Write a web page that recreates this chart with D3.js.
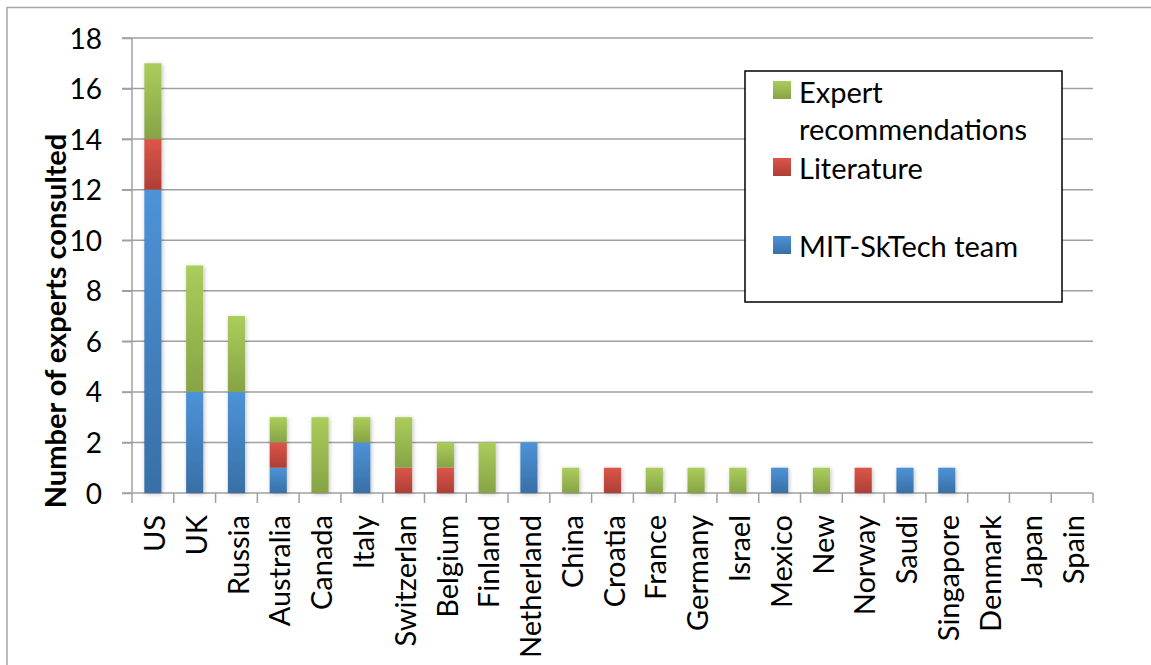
<!DOCTYPE html>
<html>
<head>
<meta charset="utf-8">
<script src="https://cdn.jsdelivr.net/npm/d3@7"></script>
<style>
  body { margin: 0; background: #fff; }
  text { font-family: Lato, "Open Sans", sans-serif; fill: #000; }
</style>
</head>
<body>
<div id="chart"></div>
<script>
var countries = ["US", "UK", "Russia", "Australia", "Canada", "Italy", "Switzerlan", "Belgium",
  "Finland", "Netherland", "China", "Croatia", "France", "Germany", "Israel", "Mexico", "New",
  "Norway", "Saudi", "Singapore", "Denmark", "Japan", "Spain"];
var team = [12, 4, 4, 1, 0, 2, 0, 0, 0, 2, 0, 0, 0, 0, 0, 1, 0, 0, 1, 1, 0, 0, 0];
var literature = [2, 0, 0, 1, 0, 0, 1, 1, 0, 0, 0, 1, 0, 0, 0, 0, 0, 1, 0, 0, 0, 0, 0];
var expert = [3, 5, 3, 1, 3, 1, 2, 1, 2, 0, 1, 0, 1, 1, 1, 0, 1, 0, 0, 0, 0, 0, 0];
var yTicks = [0, 2, 4, 6, 8, 10, 12, 14, 16, 18];

var series = [
  {key: "team", name: "MIT-SkTech team", values: team, light: "#4d93d8", dark: "#386fa6"},
  {key: "lit", name: "Literature", values: literature, light: "#dc5549", dark: "#ad3f36"},
  {key: "exp", name: "Expert recommendations", values: expert, light: "#abcd5b", dark: "#87a346"}
];

var W = 1151, H = 665;
var margin = {top: 38, right: 58, bottom: 172, left: 132};
var width = W - margin.left - margin.right,
    height = H - margin.top - margin.bottom;

var svg = d3.select("#chart").append("svg")
  .attr("width", W)
  .attr("height", H);

var defs = svg.append("defs");
series.forEach(function(s) {
  var g = defs.append("linearGradient")
    .attr("id", "grad-" + s.key)
    .attr("x1", 0).attr("y1", 0).attr("x2", 0).attr("y2", 1);
  g.append("stop").attr("offset", "0%").attr("stop-color", s.light);
  g.append("stop").attr("offset", "100%").attr("stop-color", s.dark);
});
var shadow = defs.append("filter").attr("id", "shadow")
  .attr("x", "-50%").attr("y", "-10%").attr("width", "200%").attr("height", "120%");
shadow.append("feDropShadow").attr("dx", 1).attr("dy", 1).attr("stdDeviation", 2)
  .attr("flood-color", "#000").attr("flood-opacity", 0.25);

// chart area border
svg.append("rect")
  .attr("x", 7).attr("y", 7.5)
  .attr("width", W + 10).attr("height", H + 10)
  .attr("fill", "none").attr("stroke", "#a6a6a6").attr("stroke-width", 1.5);

var g = svg.append("g")
  .attr("transform", "translate(" + margin.left + "," + margin.top + ")");

var x = d3.scaleBand().domain(countries).range([0, width]).padding(0);
var y = d3.scaleLinear().domain([0, 18]).range([height, 0]);

// gridlines
g.append("g")
  .selectAll("line")
  .data(yTicks)
  .enter().append("line")
  .attr("x1", -10).attr("x2", width)
  .attr("y1", d => y(d)).attr("y2", d => y(d))
  .attr("stroke", "#a0a0a0").attr("stroke-width", 1.5);

// y axis
var yAxis = g.append("g")
  .call(d3.axisLeft(y).tickValues(yTicks).tickSize(10).tickPadding(20));
yAxis.select(".domain").attr("stroke", "#a0a0a0").attr("stroke-width", 1.5)
  .attr("d", "M0," + y(0) + "V" + y(18));
yAxis.selectAll(".tick line").attr("stroke", "#a0a0a0").attr("stroke-width", 1.5);
yAxis.selectAll(".tick text").style("font-size", "28px").attr("dy", "0.36em");

// x axis ticks at band boundaries
var bounds = countries.map(function(c) { return x(c); }).concat([width]);
g.append("g")
  .selectAll("line")
  .data(bounds)
  .enter().append("line")
  .attr("x1", d => d).attr("x2", d => d)
  .attr("y1", height).attr("y2", height + 10)
  .attr("stroke", "#a0a0a0").attr("stroke-width", 1.5);

g.append("g")
  .selectAll("text")
  .data(countries)
  .enter().append("text")
  .attr("transform", d => "translate(" + (x(d) + x.bandwidth() / 2 + 2) + "," + (height + 22) + ") rotate(-90)")
  .attr("text-anchor", "end")
  .attr("dy", "0.35em")
  .style("font-size", "29px")
  .text(d => d);

// stacked bars
var rows = countries.map(function(c, i) {
  return {country: c, team: team[i], lit: literature[i], exp: expert[i]};
});
var stack = d3.stack().keys(["team", "lit", "exp"])(rows);
var barW = x.bandwidth() * 0.41;

var barsG = g.append("g").attr("filter", "url(#shadow)");
stack.forEach(function(layer, li) {
  barsG.append("g")
    .selectAll("rect")
    .data(layer.filter(d => d[1] > d[0]))
    .enter().append("rect")
    .attr("x", d => x(d.data.country) + (x.bandwidth() - barW) / 2)
    .attr("width", barW)
    .attr("y", d => y(d[1]))
    .attr("height", d => y(d[0]) - y(d[1]))
    .attr("fill", "url(#grad-" + series[li].key + ")");
});

// y title
svg.append("text")
  .attr("transform", "translate(56," + 321 + ") rotate(-90)")
  .attr("text-anchor", "middle")
  .attr("dy", "0.35em")
  .style("font-size", "29px")
  .style("font-weight", "bold")
  .text("Number of experts consulted");

// legend
var legend = svg.append("g");
legend.append("rect")
  .attr("x", 745).attr("y", 71)
  .attr("width", 317).attr("height", 231)
  .attr("fill", "#fff").attr("stroke", "#000").attr("stroke-width", 1.5);

var legendItems = [
  {s: series[2], lines: ["Expert", "recommendations"], sy: 81, ty: 103},
  {s: series[1], lines: ["Literature"], sy: 158, ty: 179},
  {s: series[0], lines: ["MIT-SkTech team"], sy: 236, ty: 257}
];
var li = legend.selectAll(".legend")
  .data(legendItems)
  .enter().append("g")
  .attr("class", "legend");
li.append("rect")
  .attr("x", 773).attr("y", d => d.sy)
  .attr("width", 18).attr("height", 18)
  .attr("fill", d => "url(#grad-" + d.s.key + ")");
li.append("text")
  .attr("x", 799).attr("y", d => d.ty)
  .style("font-size", "29px")
  .selectAll("tspan")
  .data(d => d.lines)
  .enter().append("tspan")
  .attr("x", 799)
  .attr("dy", (d, i) => i === 0 ? 0 : 37)
  .text(d => d);
</script>
</body>
</html>
